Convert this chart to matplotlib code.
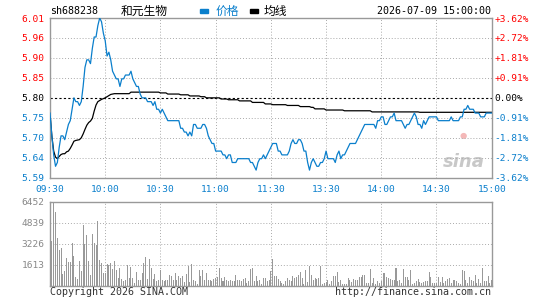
import matplotlib
matplotlib.use("Agg")
import matplotlib.pyplot as plt
import numpy as np

# ---------------- data ----------------
code = "sh688238"
name = "和元生物"
stamp = "2026-07-09 15:00:00"
prev_close = 5.80

price = [5.76, 5.70, 5.65, 5.62, 5.63, 5.67, 5.70, 5.70, 5.69, 5.71,
         5.73, 5.74, 5.77, 5.80, 5.79, 5.79, 5.78, 5.79, 5.83, 5.88,
         5.90, 5.90, 5.89, 5.93, 5.96, 5.96, 5.99, 6.01, 6.00, 5.97,
         5.95, 5.91, 5.92, 5.90, 5.87, 5.86, 5.85, 5.85, 5.83, 5.85,
         5.85, 5.86, 5.86, 5.86, 5.87, 5.85, 5.84, 5.83, 5.83, 5.81,
         5.80, 5.80, 5.80, 5.79, 5.79, 5.79, 5.78, 5.79, 5.77, 5.77,
         5.76, 5.77, 5.76, 5.75, 5.74, 5.74, 5.74, 5.74, 5.74, 5.74,
         5.74, 5.72, 5.72, 5.71, 5.71, 5.70, 5.71, 5.70, 5.73, 5.73,
         5.72, 5.72, 5.72, 5.73, 5.73, 5.72, 5.70, 5.69, 5.68, 5.68,
         5.66, 5.66, 5.66, 5.66, 5.65, 5.65, 5.64, 5.65, 5.65, 5.63,
         5.63, 5.63, 5.64, 5.64, 5.64, 5.64, 5.64, 5.64, 5.64, 5.63,
         5.63, 5.62, 5.61, 5.63, 5.64, 5.64, 5.65, 5.64, 5.65, 5.66,
         5.67, 5.68, 5.68, 5.68, 5.66, 5.66, 5.65, 5.65, 5.65, 5.65,
         5.66, 5.68, 5.69, 5.68, 5.68, 5.69, 5.69, 5.68, 5.66, 5.66,
         5.63, 5.61, 5.63, 5.64, 5.63, 5.62, 5.62, 5.63, 5.63, 5.64,
         5.66, 5.64, 5.64, 5.64, 5.64, 5.63, 5.65, 5.66, 5.64, 5.65,
         5.65, 5.66, 5.67, 5.68, 5.68, 5.68, 5.68, 5.69, 5.70, 5.71,
         5.72, 5.73, 5.73, 5.73, 5.73, 5.73, 5.73, 5.72, 5.74, 5.74,
         5.75, 5.75, 5.73, 5.73, 5.74, 5.75, 5.75, 5.76, 5.74, 5.74,
         5.74, 5.74, 5.73, 5.72, 5.73, 5.73, 5.74, 5.75, 5.76, 5.75,
         5.73, 5.73, 5.72, 5.74, 5.73, 5.74, 5.75, 5.75, 5.75, 5.75,
         5.75, 5.74, 5.74, 5.74, 5.74, 5.74, 5.74, 5.74, 5.75, 5.74,
         5.74, 5.74, 5.74, 5.75, 5.75, 5.77, 5.77, 5.78, 5.77, 5.77,
         5.77, 5.76, 5.76, 5.76, 5.75, 5.75, 5.75, 5.76, 5.76, 5.76,
         5.76]

avg = [5.760, 5.700, 5.660, 5.644, 5.640, 5.646, 5.651, 5.653, 5.653, 5.658,
       5.660, 5.667, 5.676, 5.686, 5.688, 5.689, 5.690, 5.695, 5.705, 5.717,
       5.728, 5.735, 5.739, 5.746, 5.765, 5.781, 5.790, 5.793, 5.796, 5.798,
       5.800, 5.803, 5.806, 5.809, 5.810, 5.811, 5.811, 5.811, 5.811, 5.811,
       5.811, 5.811, 5.811, 5.811, 5.815, 5.815, 5.815, 5.815, 5.815, 5.815,
       5.815, 5.815, 5.815, 5.815, 5.815, 5.815, 5.815, 5.815, 5.815, 5.815,
       5.813, 5.813, 5.813, 5.813, 5.810, 5.810, 5.810, 5.810, 5.810, 5.810,
       5.810, 5.808, 5.808, 5.808, 5.808, 5.808, 5.805, 5.805, 5.805, 5.805,
       5.805, 5.805, 5.803, 5.803, 5.803, 5.800, 5.800, 5.800, 5.800, 5.800,
       5.800, 5.800, 5.800, 5.797, 5.797, 5.797, 5.797, 5.795, 5.795, 5.795,
       5.795, 5.795, 5.795, 5.792, 5.792, 5.792, 5.792, 5.792, 5.792, 5.792,
       5.788, 5.788, 5.788, 5.788, 5.788, 5.788, 5.788, 5.784, 5.784, 5.784,
       5.784, 5.782, 5.782, 5.782, 5.782, 5.782, 5.782, 5.782, 5.782, 5.780,
       5.780, 5.780, 5.780, 5.780, 5.780, 5.780, 5.777, 5.777, 5.777, 5.777,
       5.777, 5.777, 5.775, 5.775, 5.771, 5.771, 5.771, 5.771, 5.771, 5.771,
       5.768, 5.768, 5.768, 5.768, 5.768, 5.768, 5.768, 5.768, 5.768, 5.768,
       5.766, 5.766, 5.766, 5.766, 5.766, 5.766, 5.766, 5.766, 5.766, 5.766,
       5.766, 5.766, 5.766, 5.766, 5.766, 5.763, 5.763, 5.763, 5.763, 5.763,
       5.763, 5.763, 5.763, 5.763, 5.763, 5.763, 5.763, 5.763, 5.763, 5.763,
       5.763, 5.763, 5.763, 5.763, 5.763, 5.763, 5.763, 5.763, 5.763, 5.763,
       5.763, 5.762, 5.762, 5.762, 5.762, 5.762, 5.762, 5.762, 5.762, 5.762,
       5.762, 5.762, 5.762, 5.762, 5.762, 5.762, 5.762, 5.762, 5.762, 5.762,
       5.762, 5.762, 5.762, 5.762, 5.762, 5.762, 5.762, 5.762, 5.762, 5.762,
       5.762, 5.762, 5.762, 5.762, 5.762, 5.762, 5.762, 5.762, 5.762, 5.762,
       5.762]

volume = [717, 3405, 6452, 5658, 3661, 2714, 2893, 896, 1152, 2125,
          1818, 1818, 3277, 2304, 666, 538, 1920, 1152, 4685, 3200,
          3917, 1920, 845, 3968, 3277, 3149, 4941, 1997, 1741, 973,
          973, 1664, 1613, 1741, 1306, 1869, 1229, 589, 1357, 512,
          384, 461, 1613, 589, 1434, 589, 205, 1050, 461, 461,
          973, 1741, 2202, 512, 2048, 1357, 512, 896, 333, 461,
          1229, 410, 384, 461, 461, 794, 743, 461, 973, 461,
          768, 589, 717, 282, 896, 1485, 256, 1664, 461, 333,
          128, 1229, 717, 1229, 461, 973, 461, 461, 384, 512,
          589, 666, 1357, 589, 384, 666, 461, 333, 461, 333,
          384, 845, 461, 410, 384, 512, 589, 205, 384, 1280,
          1357, 333, 717, 333, 461, 154, 589, 589, 384, 461,
          1101, 2048, 717, 717, 512, 333, 205, 128, 333, 589,
          461, 384, 717, 589, 666, 845, 1050, 589, 128, 1229,
          282, 1485, 845, 435, 589, 512, 589, 1485, 128, 205,
          256, 461, 128, 333, 717, 717, 1050, 256, 461, 128,
          128, 128, 589, 410, 282, 512, 461, 461, 666, 666,
          794, 794, 205, 205, 1280, 205, 589, 128, 333, 205,
          333, 973, 973, 666, 589, 512, 461, 461, 1357, 384,
          461, 205, 1280, 666, 666, 410, 1229, 128, 205, 333,
          512, 282, 205, 282, 333, 333, 1050, 666, 205, 205,
          205, 666, 282, 666, 205, 333, 512, 589, 205, 461,
          461, 333, 205, 128, 1229, 1101, 461, 205, 666, 461,
          333, 794, 205, 512, 205, 1357, 333, 333, 717, 205,
          461]

time_labels = ["09:30", "10:00", "10:30", "11:00", "11:30",
               "13:30", "14:00", "14:30", "15:00"]
price_labels = ["5.59", "5.64", "5.70", "5.75", "5.80",
                "5.85", "5.90", "5.96", "6.01"]
pct_labels = ["-3.62%", "-2.72%", "-1.81%", "-0.91%", "0.00%",
              "+0.91%", "+1.81%", "+2.72%", "+3.62%"]
vol_levels = [1613, 3226, 4839, 6452]
vol_labels = ["1613", "3226", "4839", "6452"]
vol_max = 6452
price_lo, price_hi = 5.59, 6.01

# ---------------- style ----------------
BLUE = "#0a7fcc"
RED = "#ff0000"
GRAY = "#999999"
GRID = "#aaaaaa"
MONO = "DejaVu Sans Mono"
FS = 6.8

fig = plt.figure(figsize=(5.45, 3.0), dpi=100)
fig.patch.set_facecolor("white")

ax = fig.add_axes([50 / 545, 1 - 177.7 / 300, 441.7 / 545, 159.7 / 300])
axv = fig.add_axes([50 / 545, 1 - 285.7 / 300, 441.7 / 545, 84 / 300])

n = len(price)
x = np.arange(n)
xt = np.arange(0, n, 30)

# main price panel
ax.set_xlim(0, n - 1)
ax.set_ylim(price_lo, price_hi)
levels = np.linspace(price_lo, price_hi, 9)
for i, lv in enumerate(levels[1:-1], start=1):
    if i == 4:
        ax.axhline(prev_close, color="black", lw=0.8, ls=(0, (2, 2)), zorder=1)
    else:
        ax.axhline(lv, color=GRID, lw=0.7, ls=(0, (1, 2)), zorder=1)
for t in xt[1:-1]:
    ax.axvline(t, color=GRID, lw=0.7, ls=(0, (1, 2)), zorder=1)

ax.plot(x, price, color=BLUE, lw=0.9, zorder=3)
ax.plot(x, avg, color="black", lw=0.9, zorder=2)

for s in ax.spines.values():
    s.set_color(GRAY)
    s.set_linewidth(1.0)

ax.set_yticks(levels)
ax.set_yticklabels(price_labels, fontfamily=MONO, fontsize=FS)
for i, lab in enumerate(ax.get_yticklabels()):
    lab.set_color(RED if i > 4 else ("black" if i == 4 else BLUE))
ax.tick_params(axis="y", length=0, pad=4)

ax.set_xticks(xt)
ax.set_xticklabels(time_labels, fontfamily=MONO, fontsize=FS, color=BLUE)
ax.tick_params(axis="x", length=0, pad=5)

axr = ax.twinx()
axr.set_ylim(price_lo, price_hi)
axr.set_yticks(levels)
axr.set_yticklabels(pct_labels, fontfamily=MONO, fontsize=FS)
for i, lab in enumerate(axr.get_yticklabels()):
    lab.set_color(RED if i > 4 else ("black" if i == 4 else BLUE))
axr.tick_params(axis="y", length=0, pad=2)
for s in axr.spines.values():
    s.set_visible(False)

# sina watermark
ax.text(0.985, 0.04, "sina", transform=ax.transAxes, ha="right", va="bottom",
        fontsize=13, fontweight="bold", fontstyle="italic", color="#c8c8c8",
        family="DejaVu Sans", zorder=0)
ax.text(0.935, 0.235, "●", transform=ax.transAxes, ha="center", va="bottom",
        fontsize=6, color="#f4b8b8", zorder=0)

# volume panel
axv.set_xlim(0, n - 1)
axv.set_ylim(0, vol_max)
axv.bar(x, volume, width=0.55, color=GRAY, linewidth=0, zorder=2)
for lv in vol_levels[:-1]:
    axv.axhline(lv, color=GRID, lw=0.7, ls=(0, (1, 2)), zorder=1)
for t in xt[1:-1]:
    axv.axvline(t, color=GRID, lw=0.7, ls=(0, (1, 2)), zorder=1)
for s in axv.spines.values():
    s.set_color(GRAY)
    s.set_linewidth(1.0)
axv.set_yticks(vol_levels)
axv.set_yticklabels(vol_labels, fontfamily=MONO, fontsize=FS, color="#888888")
axv.tick_params(axis="y", length=0, pad=4)
axv.set_xticks([])

# header texts
CJK = ["Noto Sans CJK SC", "DejaVu Sans"]
fig.text(50 / 545, 1 - 11 / 300, code, ha="left", va="center",
         fontfamily=MONO, fontsize=FS + 0.4, color="black")
fig.text(144 / 545, 1 - 11 / 300, name, ha="center", va="center",
         fontfamily=CJK, fontsize=8.5, color="black")
fig.patches.append(plt.Rectangle((200 / 545, 1 - 12.5 / 300), 8 / 545, 3 / 300,
                                 transform=fig.transFigure, color=BLUE))
fig.text(216 / 545, 1 - 11 / 300, "价格", ha="left", va="center",
         fontfamily=CJK, fontsize=8.5, color=BLUE)
fig.patches.append(plt.Rectangle((250 / 545, 1 - 12.5 / 300), 8 / 545, 3 / 300,
                                 transform=fig.transFigure, color="black"))
fig.text(264 / 545, 1 - 11 / 300, "均线", ha="left", va="center",
         fontfamily=CJK, fontsize=8.5, color="black")
fig.text(491 / 545, 1 - 11 / 300, stamp, ha="right", va="center",
         fontfamily=MONO, fontsize=FS + 0.4, color="black")

# footer texts
fig.text(50 / 545, 1 - 292 / 300, "Copyright 2026 SINA.COM", ha="left", va="center",
         fontfamily=MONO, fontsize=FS + 0.4, color="#333333")
fig.text(491 / 545, 1 - 292 / 300, "http://finance.sina.com.cn", ha="right", va="center",
         fontfamily=MONO, fontsize=FS + 0.4, color="#333333")

fig.savefig("out.png", dpi=100, facecolor="white")
